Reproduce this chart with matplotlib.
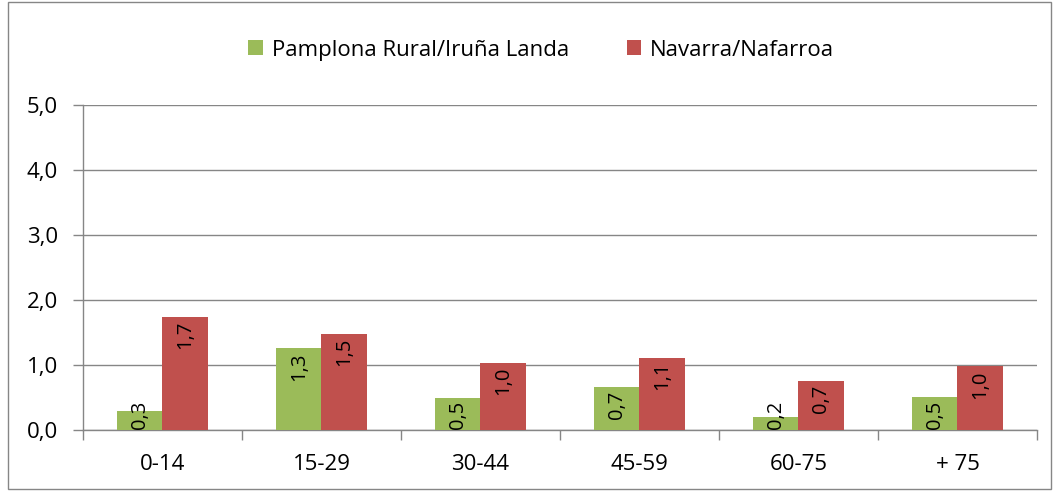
import matplotlib
matplotlib.use("Agg")
import matplotlib.pyplot as plt
import numpy as np
from matplotlib.patches import Rectangle

# Data
categories = ["0-14", "15-29", "30-44", "45-59", "60-75", "+ 75"]
pamplona = [0.29, 1.26, 0.49, 0.66, 0.20, 0.51]
navarra = [1.74, 1.48, 1.03, 1.11, 0.75, 0.98]
pamplona_labels = ["0,3", "1,3", "0,5", "0,7", "0,2", "0,5"]
navarra_labels = ["1,7", "1,5", "1,0", "1,1", "0,7", "1,0"]
series_names = ["Pamplona Rural/Iruña Landa", "Navarra/Nafarroa"]
y_ticks = [0, 1, 2, 3, 4, 5]
y_tick_labels = ["0,0", "1,0", "2,0", "3,0", "4,0", "5,0"]

green = "#9BBB59"
red = "#C0504D"
grey = "#868686"

plt.rcParams["font.family"] = ["Open Sans", "DejaVu Sans"]

fig = plt.figure(figsize=(10.53, 4.91), dpi=100)
ax = fig.add_axes([0.0788, 0.1242, 0.906, 0.662])

x = np.arange(len(categories))
w = 0.285
b1 = ax.bar(x - w / 2, pamplona, w, color=green, label=series_names[0], zorder=3)
b2 = ax.bar(x + w / 2, navarra, w, color=red, label=series_names[1], zorder=3)

# rotated value labels, inside end, kept above the axis
for xs, vals, labs in [(x - w / 2, pamplona, pamplona_labels), (x + w / 2, navarra, navarra_labels)]:
    for xi, v, lab in zip(xs, vals, labs):
        ytop = max(v - 0.06, 0.45)
        ax.text(xi, ytop, lab, rotation=90, ha="center", va="top", fontsize=14.5,
                color="black", zorder=4)

ax.set_xlim(-0.5, len(categories) - 0.5)
ax.set_ylim(0, 5)
ax.set_yticks(y_ticks)
ax.set_yticklabels(y_tick_labels, fontsize=16)
ax.set_xticks(x)
ax.set_xticklabels(categories, fontsize=16)
ax.set_xticks(np.arange(len(categories) + 1) - 0.5, minor=True)
ax.tick_params(axis="x", which="major", length=0, pad=17)
ax.tick_params(axis="x", which="minor", length=7, color=grey, width=1)
ax.tick_params(axis="y", length=7, color=grey, width=1, pad=11)

ax.grid(axis="y", color=grey, linewidth=1, zorder=0)
for s in ["top", "right"]:
    ax.spines[s].set_visible(False)
for s in ["left", "bottom"]:
    ax.spines[s].set_color(grey)
    ax.spines[s].set_linewidth(1)

fig.legend(handles=[b1, b2], loc="center", bbox_to_anchor=(0.514, 0.898), ncol=2,
           frameon=False, fontsize=16, handlelength=0.65, handleheight=0.65,
           handletextpad=0.4, columnspacing=2.6)

# chart border
fig.patches.append(Rectangle((0.008, 0.004), 0.99, 0.992, transform=fig.transFigure,
                             fill=False, edgecolor=grey, linewidth=1))

fig.savefig("out.png", dpi=100)
